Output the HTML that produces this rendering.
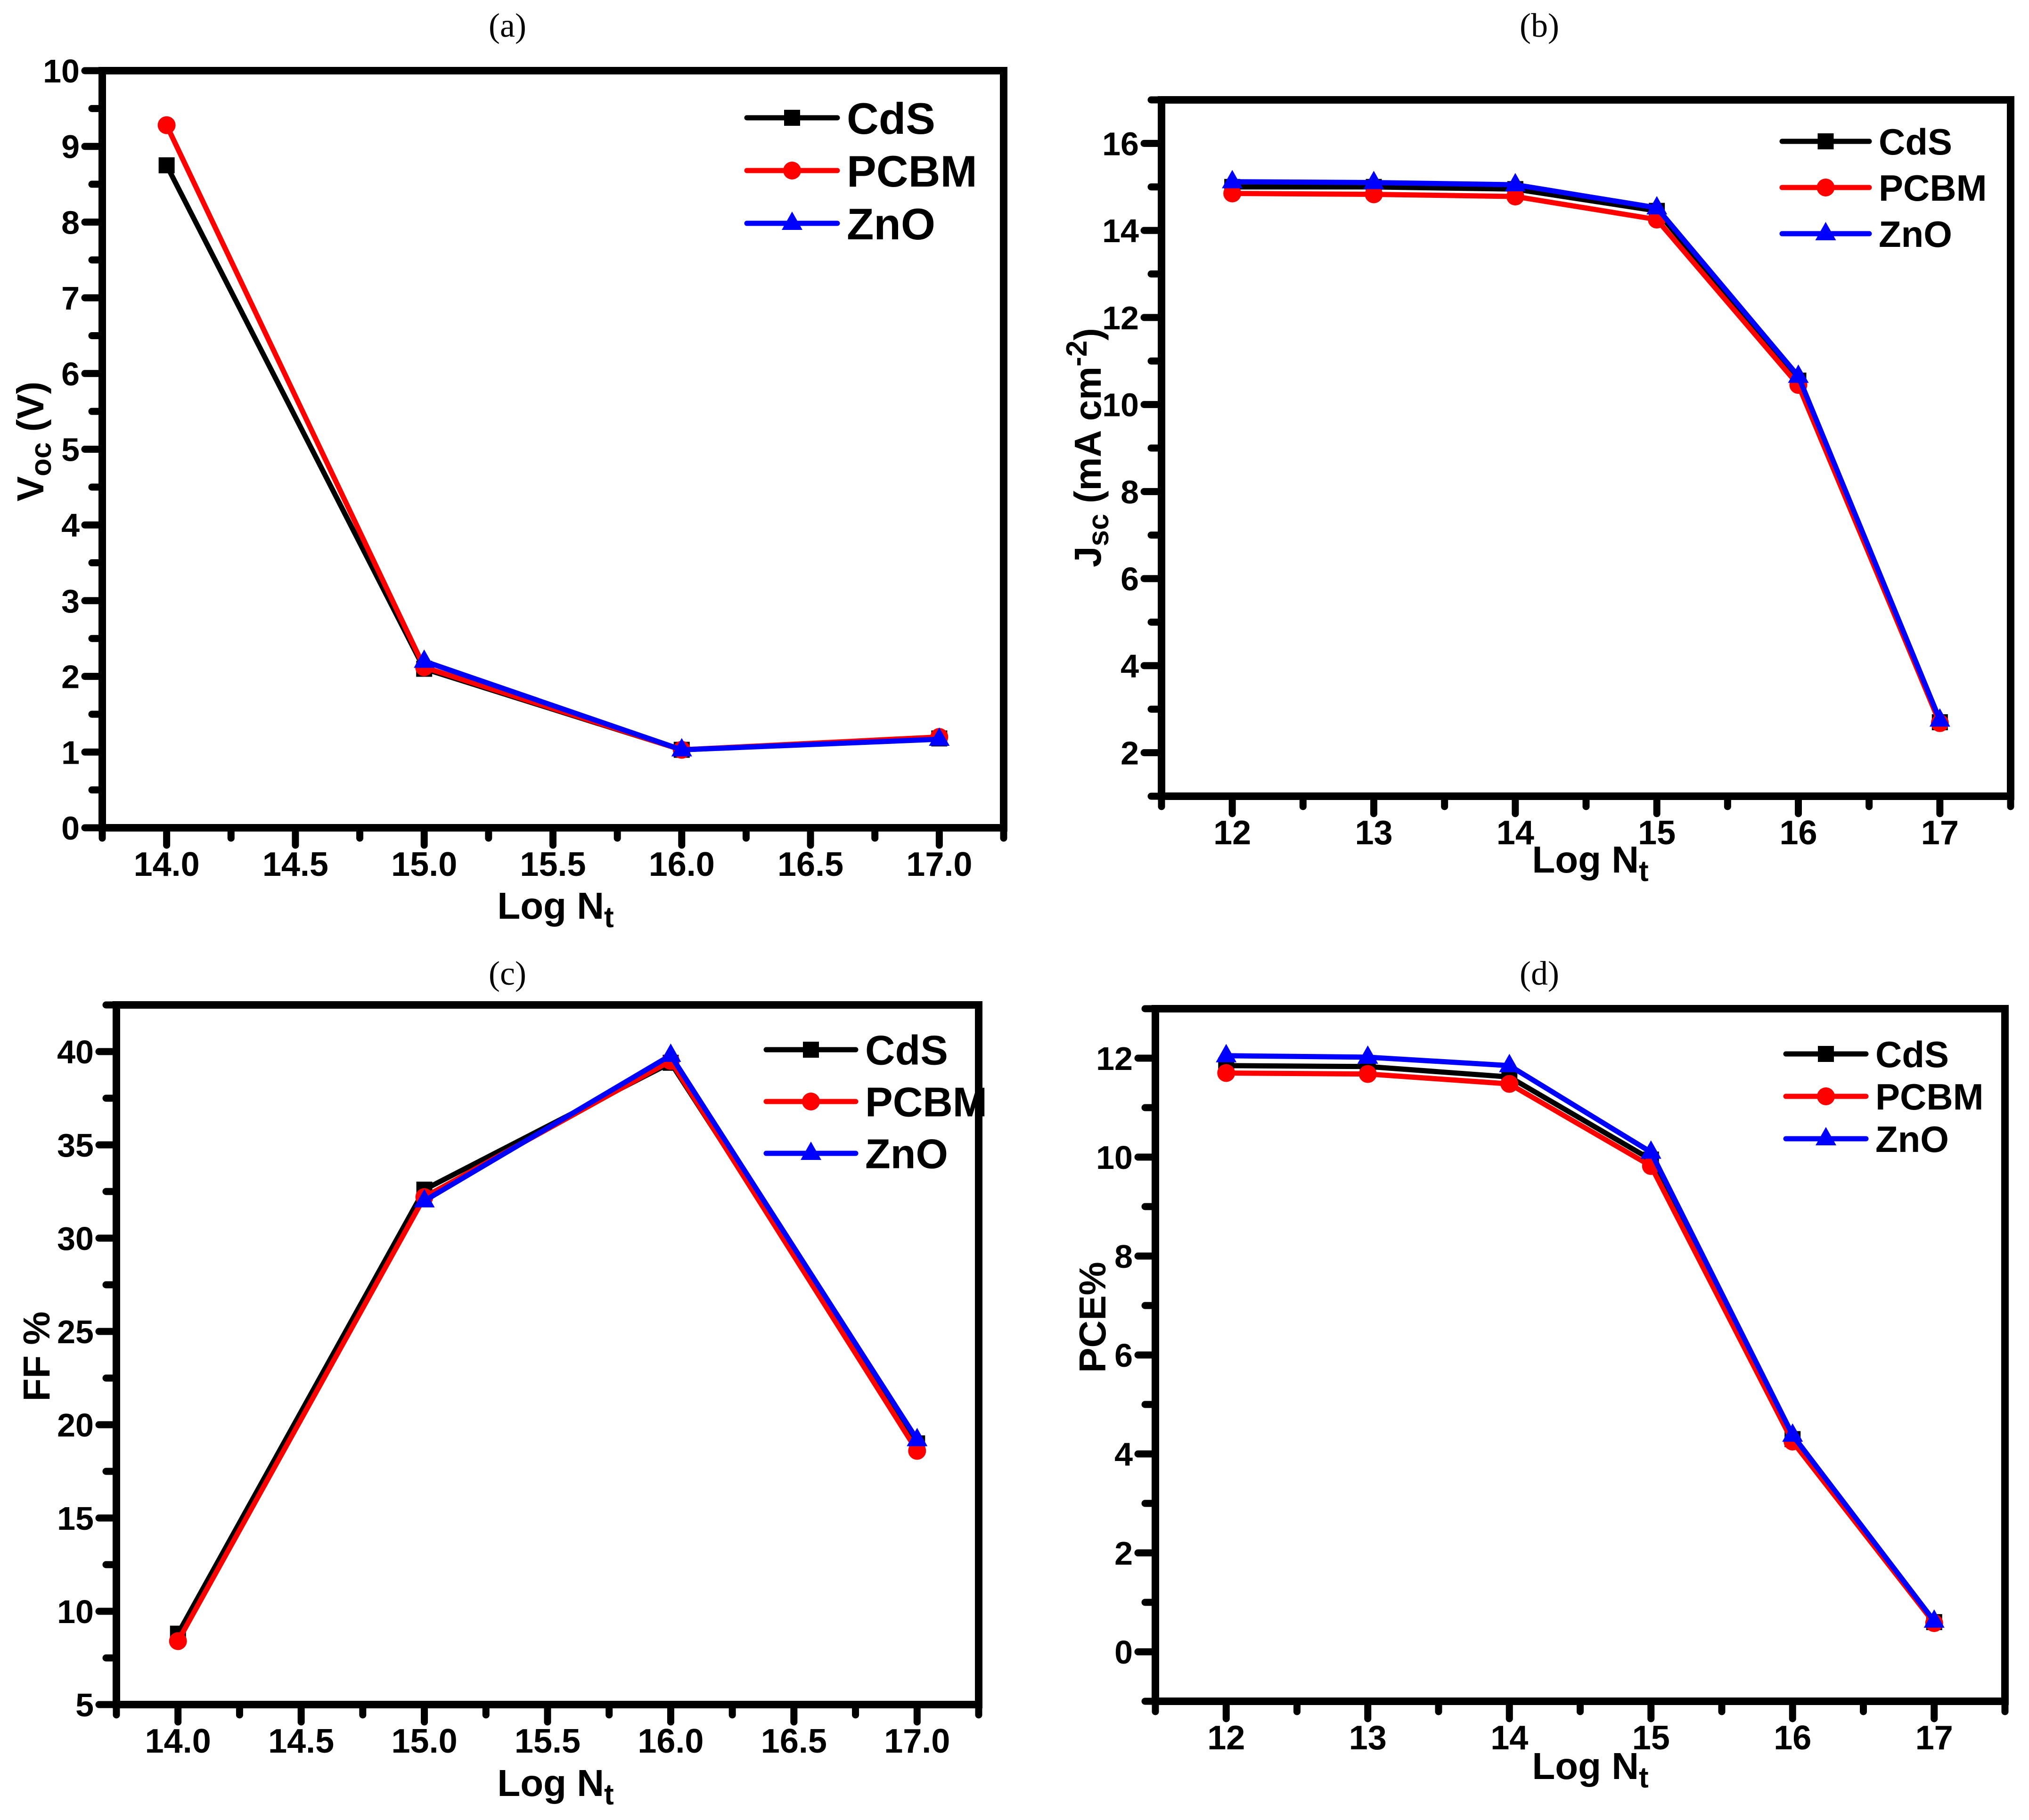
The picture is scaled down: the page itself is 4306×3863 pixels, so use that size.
<!DOCTYPE html>
<html><head><meta charset="utf-8"><style>
html,body{margin:0;padding:0;background:#fff;}
svg{display:block;font-family:"Liberation Sans",Arial,sans-serif;}
</style></head>
<body>
<svg id="fig" width="4306" height="3863" viewBox="0 0 4306 3863" xmlns="http://www.w3.org/2000/svg">
<rect width="4306" height="3863" fill="#fff"/>
</svg>
<script>
// ---- data ----
const xA = [14, 15, 16, 17];
const aCdS = [8.75, 2.1, 1.03, 1.18];
const aPCBM = [9.28, 2.12, 1.03, 1.2];
const aZnO = [null, 2.2, 1.03, 1.17];

const xB = [12, 13, 14, 15, 16, 17];
const bCdS = [15.0, 15.0, 14.95, 14.45, 10.55, 2.7];
const bPCBM = [14.85, 14.83, 14.78, 14.25, 10.45, 2.68];
const bZnO = [15.12, 15.1, 15.05, 14.52, 10.65, 2.75];

const xC = [14, 15, 16, 17];
const cCdS = [8.8, 32.6, 39.4, 19.0];
const cPCBM = [8.4, 32.2, 39.5, 18.6];
const cZnO = [null, 32.0, 39.8, 19.2];

const xD = [12, 13, 14, 15, 16, 17];
const dCdS = [11.85, 11.83, 11.62, 9.95, 4.3, 0.6];
const dPCBM = [11.7, 11.68, 11.48, 9.82, 4.25, 0.58];
const dZnO = [12.05, 12.02, 11.85, 10.1, 4.38, 0.62];

const seriesNames = ["CdS", "PCBM", "ZnO"];
const seriesColors = ["#000000", "#ff0000", "#0000ff"];

const NS = "http://www.w3.org/2000/svg";
const svg = document.getElementById("fig");
function mk(tag, attrs, parent) {
  const e = document.createElementNS(NS, tag);
  for (const k in attrs) e.setAttribute(k, attrs[k]);
  (parent || svg).appendChild(e);
  return e;
}

function panel(cfg) {
  const g = mk("g", {});
  
  
  const sx = v => cfg.L + (v - cfg.x0) / (cfg.x1 - cfg.x0) * (cfg.R - cfg.L);
  const sy = v => cfg.B - (v - cfg.y0) / (cfg.y1 - cfg.y0) * (cfg.B - cfg.T);

  const pl = mk("text", {x: cfg.labX, y: cfg.labY, "text-anchor": "middle", "font-family": "Liberation Serif, serif", "font-size": 72}, g);
  pl.textContent = "(" + cfg.id + ")";
  
  

  const tg = mk("g", {stroke: "#000", "stroke-width": 15, "stroke-linecap": "round"}, g);
  
  
  const eps = 1e-6;
  for (let i = 0; ; i++) {
    const v = cfg.y0 + i * cfg.yMinor;
    if (v > cfg.y1 + eps) break;
    const isMaj = Math.abs(((v - cfg.yMajorStart) / cfg.yMajor) - Math.round((v - cfg.yMajorStart) / cfg.yMajor)) < 1e-4;
    const y = sy(v);
    mk("line", {x1: cfg.L, x2: cfg.L - (isMaj ? 37 : 22), y1: y, y2: y}, tg);
    if (isMaj) {
      const t = mk("text", {x: cfg.L - 48, y: y + 25, "text-anchor": "end", "font-weight": "bold", "font-size": 70}, g);
      t.textContent = cfg.yFmt(v);
      
      
    }
  }
  for (let i = 0; ; i++) {
    const v = cfg.x0 + i * cfg.xMinor;
    if (v > cfg.x1 + eps) break;
    const isMaj = Math.abs(((v - cfg.xMajorStart) / cfg.xMajor) - Math.round((v - cfg.xMajorStart) / cfg.xMajor)) < 1e-4;
    const x = sx(v);
    mk("line", {x1: x, x2: x, y1: cfg.B, y2: cfg.B + (isMaj ? 37 : 22)}, tg);
    if (isMaj) {
      const t = mk("text", {x: x, y: cfg.B + 102, "text-anchor": "middle", "font-weight": "bold", "font-size": 72}, g);
      t.textContent = cfg.xFmt(v);
      
      
    }
  }
  const fr = mk("rect", {x: cfg.L, y: cfg.T, width: cfg.R - cfg.L, height: cfg.B - cfg.T, fill: "none", stroke: "#000", "stroke-width": 16}, g);
  
  

  cfg.series.forEach((vals, si) => {
    const col = seriesColors[si];
    const sg = mk("g", {}, g);
    
    
    let d = "";
    vals.forEach((v, i) => {
      if (v === null) return;
      d += (d ? "L" : "M") + sx(cfg.xs[i]).toFixed(1) + " " + sy(v).toFixed(1);
    });
    const p = mk("path", {d: d, fill: "none", stroke: col, "stroke-width": 11, "stroke-linejoin": "round"}, sg);
    
    
    vals.forEach((v, i) => {
      if (v === null) return;
      const m = marker(si, sx(cfg.xs[i]), sy(v), sg);
      
      
    });
  });

  const lg = mk("g", {}, g);
  
  
  seriesNames.forEach((n, si) => {
    const y = cfg.legY + si * cfg.legDy;
    const eg = mk("g", {}, lg);
    
    
    mk("line", {x1: cfg.legX1, x2: cfg.legX2, y1: y, y2: y, stroke: seriesColors[si], "stroke-width": 11, "stroke-linecap": "round"}, eg);
    marker(si, (cfg.legX1 + cfg.legX2) / 2, y, eg);
    const t = mk("text", {x: cfg.legX2 + 20, y: y + cfg.legFs * 0.36, "font-weight": "bold", "font-size": cfg.legFs}, eg);
    t.textContent = n;
  });

  const xt = mk("text", {x: cfg.xtX, y: cfg.xtY, "text-anchor": "middle", "font-weight": "bold", "font-size": 80}, g);
  xt.innerHTML = 'Log N<tspan font-size="62" dy="18">t</tspan>';
  
  
  const yt = mk("text", {x: 0, y: 0, "text-anchor": "middle", "font-weight": "bold", "font-size": 80,
    transform: "translate(" + cfg.ytX + "," + cfg.ytY + ") rotate(-90)"}, g);
  yt.innerHTML = cfg.ytHTML;
  
  
}

function marker(si, x, y, parent) {
  const col = seriesColors[si];
  if (si === 0) return mk("rect", {x: x - 17, y: y - 17, width: 34, height: 34, fill: col}, parent);
  if (si === 1) return mk("circle", {cx: x, cy: y, r: 19, fill: col}, parent);
  return mk("polygon", {points: (x) + "," + (y - 25) + " " + (x - 22) + "," + (y + 14) + " " + (x + 22) + "," + (y + 14), fill: col}, parent);
}

const f1 = v => v.toFixed(1);
const f0 = v => String(Math.round(v));

panel({id: "a", L: 217, R: 2130, T: 150, B: 1757, x0: 13.75, x1: 17.25, y0: 0, y1: 10,
  xs: xA, series: [aCdS, aPCBM, aZnO],
  xMinor: 0.25, xMajor: 0.5, xMajorStart: 14, xFmt: f1,
  yMinor: 0.5, yMajor: 1, yMajorStart: 0, yFmt: f0,
  labX: 1077, labY: 78, legX1: 1585, legX2: 1777, legY: 250, legDy: 112, legFs: 94,
  xtX: 1179, xtY: 1950, ytX: 92, ytY: 937,
  ytHTML: 'V<tspan font-size="62" dy="16">oc</tspan><tspan dy="-16"> (V)</tspan>'});

panel({id: "b", L: 2465, R: 4267, T: 212, B: 1690, x0: 11.5, x1: 17.5, y0: 1, y1: 17,
  xs: xB, series: [bCdS, bPCBM, bZnO],
  xMinor: 0.5, xMajor: 1, xMajorStart: 12, xFmt: f0,
  yMinor: 1, yMajor: 2, yMajorStart: 2, yFmt: f0,
  labX: 3267, labY: 78, legX1: 3782, legX2: 3967, legY: 300, legDy: 98, legFs: 78,
  xtX: 3375, xtY: 1852, ytX: 2336, ytY: 950,
  ytHTML: 'J<tspan font-size="62" dy="16">sc</tspan><tspan dy="-16"> (mA cm</tspan><tspan font-size="62" dy="-30">-2</tspan><tspan dy="30">)</tspan>'});

panel({id: "c", L: 247, R: 2077, T: 2133, B: 3618, x0: 13.75, x1: 17.25, y0: 5, y1: 42.5,
  xs: xC, series: [cCdS, cPCBM, cZnO],
  xMinor: 0.25, xMajor: 0.5, xMajorStart: 14, xFmt: f1,
  yMinor: 2.5, yMajor: 5, yMajorStart: 5, yFmt: f0,
  labX: 1077, labY: 2090, legX1: 1626, legX2: 1816, legY: 2228, legDy: 110, legFs: 88,
  xtX: 1179, xtY: 3812, ytX: 105, ytY: 2879,
  ytHTML: 'FF %'});

panel({id: "d", L: 2452, R: 4255, T: 2141, B: 3611, x0: 11.5, x1: 17.5, y0: -1, y1: 13,
  xs: xD, series: [dCdS, dPCBM, dZnO],
  xMinor: 0.5, xMajor: 1, xMajorStart: 12, xFmt: f0,
  yMinor: 1, yMajor: 2, yMajorStart: 0, yFmt: f0,
  labX: 3267, labY: 2090, legX1: 3790, legX2: 3960, legY: 2237, legDy: 90, legFs: 78,
  xtX: 3375, xtY: 3776, ytX: 2346, ytY: 2796,
  ytHTML: 'PCE%'});
</script>
</body></html>
